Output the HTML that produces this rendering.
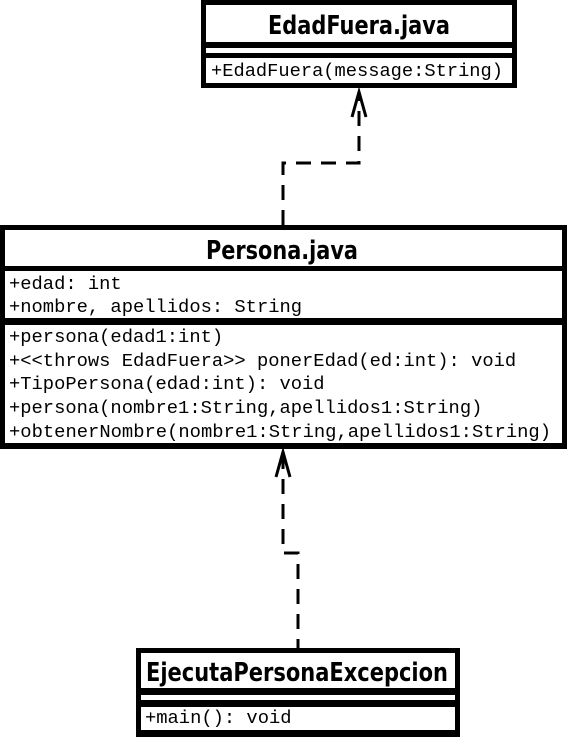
<!DOCTYPE html>
<html><head><meta charset="utf-8"><style>html,body{margin:0;padding:0;background:#fff}svg{display:block}</style></head>
<body>
<svg width="567" height="737" viewBox="0 0 567 737" xmlns="http://www.w3.org/2000/svg">
<g fill="#000">
<rect x="201" y="0" width="316" height="88"/>
<rect x="206" y="5" width="306" height="37" fill="#fff"/>
<rect x="206" y="48" width="306" height="5" fill="#fff"/>
<rect x="206" y="58" width="306" height="25" fill="#fff"/>
<rect x="0" y="225" width="567" height="224"/>
<rect x="5" y="230" width="557" height="36" fill="#fff"/>
<rect x="5" y="271" width="557" height="47" fill="#fff"/>
<rect x="5" y="325" width="557" height="118" fill="#fff"/>
<rect x="136" y="648" width="324" height="89"/>
<rect x="141" y="653" width="314" height="35" fill="#fff"/>
<rect x="141" y="695" width="314" height="5" fill="#fff"/>
<rect x="141" y="707" width="314" height="23" fill="#fff"/>
</g>
<g font-family="'DejaVu Sans','Liberation Sans',sans-serif" font-weight="bold" font-size="25.5" fill="#000">
<text x="268" y="34" textLength="182" lengthAdjust="spacingAndGlyphs">EdadFuera.java</text>
<text x="206" y="259" textLength="152" lengthAdjust="spacingAndGlyphs">Persona.java</text>
<text x="146" y="681" textLength="302" lengthAdjust="spacingAndGlyphs">EjecutaPersonaExcepcion</text>
</g>
<g font-family="'Liberation Mono',monospace" font-size="18.8" fill="#000">
<text x="211" y="76" textLength="292" lengthAdjust="spacingAndGlyphs">+EdadFuera(message:String)</text>
<text x="9" y="289">+edad: int</text>
<text x="9" y="312">+nombre, apellidos: String</text>
<text x="9" y="342">+persona(edad1:int)</text>
<text x="9" y="366">+&lt;&lt;throws EdadFuera&gt;&gt; ponerEdad(ed:int): void</text>
<text x="9" y="389">+TipoPersona(edad:int): void</text>
<text x="9" y="413">+persona(nombre1:String,apellidos1:String)</text>
<text x="9" y="437" textLength="542" lengthAdjust="spacingAndGlyphs">+obtenerNombre(nombre1:String,apellidos1:String)</text>
<text x="145" y="723">+main(): void</text>
</g>
<g fill="none" stroke="#000" stroke-width="3">
<path d="M283 225 V163 H359 V94" stroke-dasharray="15 10"/>
<path d="M352 117 L359 92 L366 117"/>
<path d="M283 454 V553 H298 V648" stroke-dasharray="15 10"/>
<path d="M276 477 L283 452 L290 477"/>
</g>
</svg>
</body></html>
